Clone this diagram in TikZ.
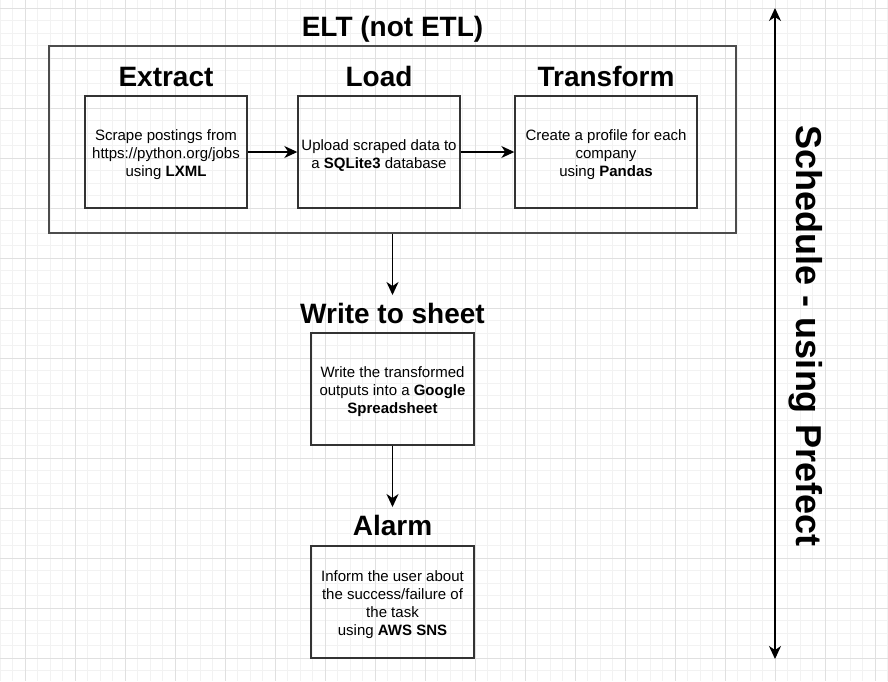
\documentclass[tikz,border=0pt]{standalone}
\usepackage{fontspec}
\setmainfont{Liberation Sans}
\usetikzlibrary{arrows.meta}

\newcommand{\toppad}{\rule{0pt}{17pt}}

\tikzset{
  gridminor/.style={draw=black!5, line width=0.8pt},
  gridmajor/.style={draw=black!12, line width=0.8pt},
  stepbox/.style={shape=rectangle, draw=black!80, line width=1.4pt, minimum height=112pt, align=center, inner sep=2pt, font=\fontsize{15}{18}\selectfont},
  steptitle/.style={anchor=base, inner sep=0pt, font=\fontsize{28}{30}\selectfont\bfseries},
  flowtip/.style={-{Stealth[length=13pt,width=12pt,inset=4pt]}},
  flowarrow/.style={flowtip, line width=1.3pt, draw=black},
}

\begin{document}
\begin{tikzpicture}[x=1pt, y=-1pt]
\useasboundingbox (0,0) rectangle (888,681);
% background grid
\begin{scope}
\clip (0,0) rectangle (888,681);
\fill[white] (0,0) rectangle (888,681);
\foreach \gx in {0,12.5,...,887.5} \draw[gridminor] (\gx,0) -- (\gx,681);
\foreach \gy in {-4.5,8,...,683} \draw[gridminor] (0,\gy) -- (888,\gy);
\foreach \gx in {25,75,...,875} \draw[gridmajor] (\gx,0) -- (\gx,681);
\foreach \gy in {8,58,...,658} \draw[gridmajor] (0,\gy) -- (888,\gy);
\end{scope}

% ELT block
\node[shape=rectangle, draw=black!70, line width=1.4pt, minimum width=687pt, minimum height=187pt] (elt) at (392.5,139.5) {};
\node[steptitle] (elttitle) at (392.5,36) {ELT (not ETL)};

\node[steptitle] (extracttitle) at (166,86) {Extract};
\node[steptitle] (loadtitle) at (379,86) {Load};
\node[steptitle] (transformtitle) at (606,86) {Transform};

\node[stepbox, minimum width=162pt] (extract) at (166,152) {\toppad Scrape postings from\\https://python.org/jobs\\using \textbf{LXML}};
\node[stepbox, minimum width=162pt] (load) at (379,152) {\toppad Upload scraped data to\\a \textbf{SQLite3} database};
\node[stepbox, minimum width=182pt] (transform) at (606,152) {\toppad Create a profile for each\\company\\using \textbf{Pandas}};

% write and alarm
\node[steptitle] (writetitle) at (392.5,323) {Write to sheet};
\node[stepbox, minimum width=163pt] (write) at (392.5,389) {\toppad Write the transformed\\outputs into a \textbf{Google}\\\textbf{Spreadsheet}};

\node[steptitle] (alarmtitle) at (392.5,535) {Alarm};
\node[stepbox, minimum width=163pt] (alarm) at (392.5,602) {\toppad Inform the user about\\the success/failure of\\the task\\using \textbf{AWS SNS}};

\draw [flowarrow] (extract) -- (load);
\draw [flowarrow] (load) -- (transform);
\draw [flowarrow, shorten >=7.5pt] (elt.south) -- (writetitle.north);
\draw [flowarrow, shorten >=7.5pt] (write.south) -- (alarmtitle.north);

% schedule
\coordinate (schedtop) at (775,8);
\coordinate (schedbottom) at (775,659);
\draw [{Stealth[length=13pt,width=12pt,inset=4pt]}-{Stealth[length=13pt,width=12pt,inset=4pt]}, line width=1.3pt] (schedtop) -- (schedbottom);
\node[rotate=-90, inner sep=0pt, font=\fontsize{36}{40}\selectfont\bfseries] (schedlabel) at (806,336) {Schedule - using Prefect};
\end{tikzpicture}
\end{document}
